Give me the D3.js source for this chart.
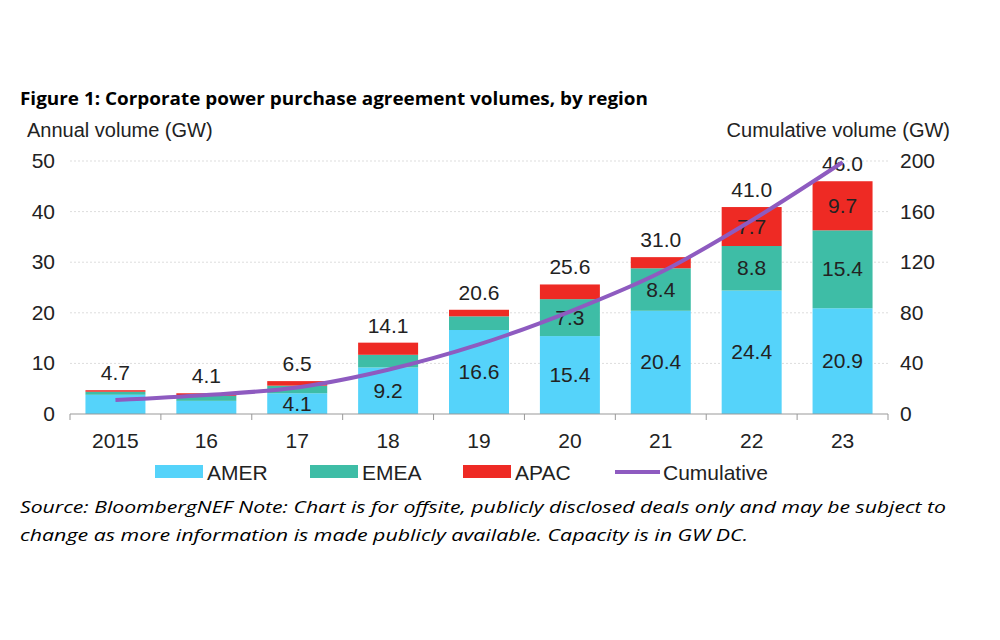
<!DOCTYPE html><html><head><meta charset="utf-8">
<script src="https://cdn.jsdelivr.net/npm/d3@7"></script>
<style>body{margin:0;background:#fff}</style></head><body>
<svg id="c" width="1000" height="640"></svg>
<script>
const years=["2015","16","17","18","19","20","21","22","23"];
const amer=[3.8,2.6,4.1,9.2,16.6,15.4,20.4,24.4,20.9];
const emea=[0.6,1.0,1.5,2.5,2.7,7.3,8.4,8.8,15.4];
const apac=[0.3,0.5,0.9,2.4,1.3,2.9,2.2,7.7,9.7];
const totals=["4.7","4.1","6.5","14.1","20.6","25.6","31.0","41.0","46.0"];
const cumulative=[11,15,21,35,55,81,112,153,199];
const leftTicks=[0,10,20,30,40,50], rightTicks=[0,40,80,120,160,200];
const C={AMER:"#55D3FA",EMEA:"#3EBDA6",APAC:"#EE2A24",Cum:"#8E5BC0"};
const svg=d3.select("#c"),F="'Liberation Sans Narrow', Arial, 'Liberation Sans', sans-serif";
const x=d3.scaleBand().domain(years).range([70,888]).paddingInner(0.34).paddingOuter(0.17);
const y=d3.scaleLinear().domain([0,50]).range([414,161]);
const y2=d3.scaleLinear().domain([0,200]).range([414,161]);
const nf="'Open Sans', Carlito, sans-serif";
svg.append("text").attr("x",20).attr("y",105).attr("font-family",nf).attr("font-weight","bold").attr("font-size",17).attr("textLength",628).attr("lengthAdjust","spacingAndGlyphs").text("Figure 1: Corporate power purchase agreement volumes, by region");
svg.append("text").attr("x",27).attr("y",137).attr("font-family",F).attr("font-size",20).attr("fill","#222").text("Annual  volume  (GW)");
svg.append("text").attr("x",950).attr("y",137).attr("text-anchor","end").attr("font-family",F).attr("font-size",20).attr("fill","#222").text("Cumulative  volume  (GW)");
svg.append("g").selectAll("line").data(leftTicks.slice(1)).join("line").attr("x1",70).attr("x2",888).attr("y1",d=>y(d)).attr("y2",d=>y(d)).attr("stroke","#ddd").attr("stroke-dasharray","2,2");
svg.append("g").selectAll("text").data(leftTicks).join("text").attr("x",55).attr("y",d=>y(d)+7).attr("text-anchor","end").attr("font-family",F).attr("font-size",21).attr("fill","#222").text(d=>d);
svg.append("g").selectAll("text").data(rightTicks).join("text").attr("x",900).attr("y",d=>y2(d)+7).attr("font-family",F).attr("font-size",21).attr("fill","#222").text(d=>d);
const g=svg.append("g");
years.forEach((yr,i)=>{
  const segs=[[amer[i],C.AMER],[emea[i],C.EMEA],[apac[i],C.APAC]];let b=0;
  segs.forEach(([v,c])=>{g.append("rect").attr("x",x(yr)).attr("width",x.bandwidth()).attr("y",y(b+v)).attr("height",y(b)-y(b+v)).attr("fill",c);b+=v;});
  g.append("text").attr("x",x(yr)+x.bandwidth()/2).attr("y",y(b)-10).attr("text-anchor","middle").attr("font-family",F).attr("font-size",21).attr("fill","#222").text(totals[i]);
  const lab=(v,base,min)=>{if(v>=min)g.append("text").attr("x",x(yr)+x.bandwidth()/2).attr("y",y(base+v/2)+7).attr("text-anchor","middle").attr("font-family",F).attr("font-size",21).attr("fill","#222").text(v.toFixed(1));};
  if(i>=2)lab(amer[i],0,4);
  if(i>=5)lab(emea[i],amer[i],7);
  if(i>=7)lab(apac[i],amer[i]+emea[i],7);
});
svg.append("path").datum(cumulative).attr("fill","none").attr("stroke",C.Cum).attr("stroke-width",4)
 .attr("d",d3.line().x((d,i)=>x(years[i])+x.bandwidth()/2).y(d=>y2(d)).curve(d3.curveMonotoneX));
svg.append("line").attr("x1",70).attr("x2",888).attr("y1",414).attr("y2",414).attr("stroke","#999");
svg.append("g").selectAll("line").data(d3.range(10)).join("line").attr("x1",d=>70+d*818/9).attr("x2",d=>70+d*818/9).attr("y1",414).attr("y2",420).attr("stroke","#999");
svg.append("g").selectAll("text").data(years).join("text").attr("x",d=>x(d)+x.bandwidth()/2).attr("y",448).attr("text-anchor","middle").attr("font-family",F).attr("font-size",21).attr("fill","#222").text(d=>d);
const leg=[["AMER",C.AMER,155],["EMEA",C.EMEA,310],["APAC",C.APAC,463]];
leg.forEach(([t,c,lx])=>{svg.append("rect").attr("x",lx).attr("y",465).attr("width",48).attr("height",13).attr("fill",c);
 svg.append("text").attr("x",lx+52).attr("y",480).attr("font-family",F).attr("font-size",21).attr("fill","#222").text(t);});
svg.append("line").attr("x1",615).attr("x2",660).attr("y1",472).attr("y2",472).attr("stroke",C.Cum).attr("stroke-width",4);
svg.append("text").attr("x",663).attr("y",480).attr("font-family",F).attr("font-size",21).attr("fill","#222").text("Cumulative");
svg.append("text").attr("x",20).attr("y",513).attr("font-family",nf).attr("font-style","italic").attr("font-size",17).attr("textLength",926).attr("lengthAdjust","spacingAndGlyphs").text("Source: BloombergNEF   Note: Chart is for offsite, publicly disclosed deals only and may be subject to");
svg.append("text").attr("x",20).attr("y",541).attr("font-family",nf).attr("font-style","italic").attr("font-size",17).attr("textLength",728).attr("lengthAdjust","spacingAndGlyphs").text("change as more information is made publicly available. Capacity is in GW DC.");
</script></body></html>
